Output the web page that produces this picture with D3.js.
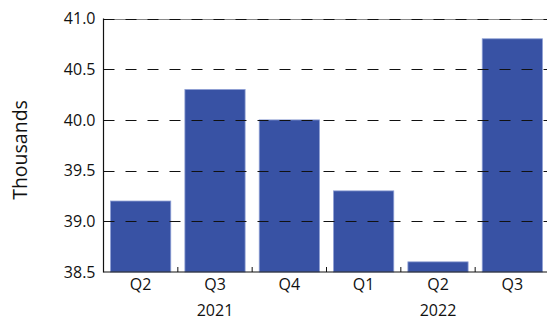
<!DOCTYPE html>
<html><head><meta charset="utf-8">
<script src="https://cdn.jsdelivr.net/npm/d3@7"></script>
<style>body{margin:0;background:#fff}svg{display:block}text{font-family:"Open Sans","Noto Sans",sans-serif;fill:#111}</style>
</head><body>
<svg id="c" width="547" height="320"></svg>
<script>
const quarters = ["Q2","Q3","Q4","Q1","Q2","Q3"];
const years = ["2021","2021","2021","2022","2022","2022"];
const values = [39.2, 40.3, 40.0, 39.3, 38.6, 40.8];
const yTicks = [38.5, 39.0, 39.5, 40.0, 40.5, 41.0];
const yearLabels = [{year:"2021", at:1},{year:"2022", at:4}];

const svg = d3.select("#c");
const pL = 103.5, pR = 549.5, pT = 18.5, pB = 272;
const x = d3.scaleBand().domain(d3.range(values.length)).range([pL, pR]).paddingInner(0.19).paddingOuter(0.095);
const y = d3.scaleLinear().domain([38.5, 41.0]).range([pB, pT]);

// top border gray
svg.append("line").attr("x1", pL).attr("x2", 547).attr("y1", Math.round(y(41))+0.5).attr("y2", Math.round(y(41))+0.5)
  .attr("stroke", "#888").attr("stroke-width", 1);

// bars
svg.append("g").selectAll("rect").data(values).join("rect")
  .attr("x", (d,i)=>x(i)).attr("width", x.bandwidth())
  .attr("y", d=>y(d)).attr("height", d=>pB - y(d))
  .attr("fill", "#3852a4").attr("stroke", "#8d9fd4").attr("stroke-width", 0.8);

// gridlines
svg.append("g").selectAll("line").data(yTicks.filter(t=>t>38.5)).join("line")
  .attr("x1", pL).attr("x2", 547)
  .attr("y1", d=>Math.round(y(d))+0.5).attr("y2", d=>Math.round(y(d))+0.5)
  .attr("stroke", "#111").attr("stroke-width", 1).attr("stroke-dasharray", "11,11");

// y axis
const yAxis = d3.axisLeft(y).tickValues(yTicks).tickFormat(d3.format(".1f")).tickSize(0).tickPadding(8);
const gy = svg.append("g").attr("transform", `translate(${pL},0)`).call(yAxis);
gy.select(".domain").remove();
gy.selectAll("text").style("font-size","16px").attr("fill","#111");
svg.append("line").attr("x1", pL).attr("x2", pL).attr("y1", pT).attr("y2", pB+0.5).attr("stroke","#111").attr("stroke-width",1.2);

// x axis
svg.append("line").attr("x1", pL).attr("x2", 547).attr("y1", pB).attr("y2", pB).attr("stroke","#111").attr("stroke-width",1.2);
const step = x.step();
svg.append("g").selectAll("line").data(d3.range(1, values.length)).join("line")
  .attr("x1", i=>x(i) - (step - x.bandwidth())/2).attr("x2", i=>x(i) - (step - x.bandwidth())/2)
  .attr("y1", pB).attr("y2", pB-5).attr("stroke","#111").attr("stroke-width",1);

const xAxis = d3.axisBottom(x).tickFormat(i=>quarters[i]).tickSize(0).tickPadding(7);
const gx = svg.append("g").attr("transform", `translate(0,${pB})`).call(xAxis);
gx.select(".domain").remove();
gx.selectAll("text").style("font-size","16px").attr("fill","#111");

svg.append("g").selectAll("text").data(yearLabels).join("text")
  .attr("x", d=>x(d.at)+x.bandwidth()/2).attr("y", 316)
  .attr("text-anchor","middle").style("font-size","16px").text(d=>d.year);

svg.append("text").attr("transform","translate(27,150) rotate(-90)")
  .attr("text-anchor","middle").style("font-size","19.5px").text("Thousands");
</script>
</body></html>
